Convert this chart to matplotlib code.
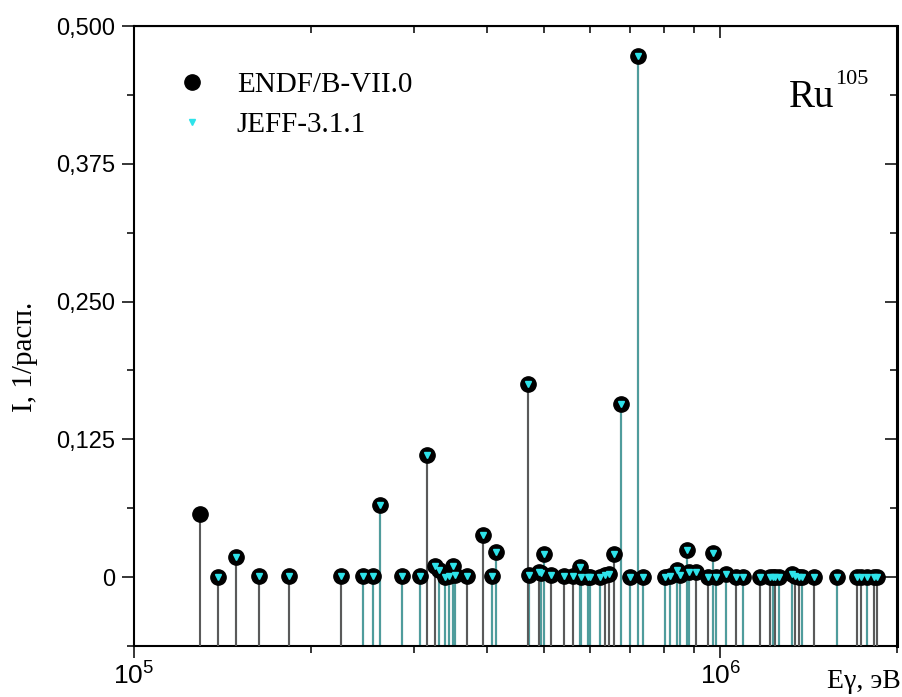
import matplotlib
matplotlib.use("Agg")
import matplotlib.pyplot as plt
from matplotlib.ticker import FixedLocator, FuncFormatter, NullFormatter, MultipleLocator
import numpy as np

# gamma lines of Ru-105, energy in keV, intensity per decay
energy_kev = [129.6, 139.3, 149.3, 163.6, 183.8, 225.3, 245.6, 255.5, 262.8, 286.7,
              306.8, 316.4, 326.4, 330.6, 339.4, 344.1, 350.2, 352.3, 369.7, 393.6,
              407.8, 413.5, 469.4, 471.2, 489.8, 495.0, 499.9, 515.0, 540.0, 560.7,
              575.4, 578.1, 594.7, 600.0, 622.0, 636.0, 644.6, 657.5, 676.4, 702.1,
              724.3, 739.0, 805.6, 821.7, 843.6, 852.0, 875.8, 883.0, 910.0, 951.0,
              969.4, 984.0, 1020.0, 1061.0, 1092.5, 1170.0, 1217.0, 1229.0, 1241.0, 1256.0,
              1326.0, 1338.0, 1359.0, 1379.0, 1443.0, 1580.0, 1712.0, 1734.0, 1775.0, 1824.0,
              1849.0]

endf_int = [0.057, 0.0005, 0.018, 0.001, 0.001, 0.001, 0.001, 0.001, 0.065, 0.001,
            0.001, 0.111, 0.0105, 0.006, 0.0005, 0.001, 0.0105, 0.002, 0.001, 0.038,
            0.001, 0.0225, 0.1755, 0.002, 0.005, 0.004, 0.021, 0.002, 0.001, 0.001,
            0.009, 0.0005, 0.0005, 0.0005, 0.0005, 0.002, 0.003, 0.021, 0.157, 0.0005,
            0.473, 0.0005, 0.0005, 0.001, 0.006, 0.002, 0.0245, 0.005, 0.005, 0.0005,
            0.0215, 0.0005, 0.003, 0.0005, 0.0005, 0.0005, 0.0005, 0.0005, 0.0005, 0.0005,
            0.003, 0.001, 0.0005, 0.0005, 0.0005, 0.0005, 0.0005, 0.0005, 0.0005, 0.0005,
            0.0005]

# JEFF has no 129.6 keV line
jeff_int = [np.nan] + endf_int[1:]

# lines where the grey ENDF drop line shows over the JEFF one
endf_stem_top = {129.6, 139.3, 149.3, 163.6, 183.8, 225.3, 316.4, 326.4, 369.7, 393.6,
                 469.4, 489.8, 515.0, 540.0, 560.7, 636.0, 644.6, 657.5, 910.0, 951.0,
                 1061.0, 1170.0, 1217.0, 1241.0, 1338.0, 1359.0, 1443.0, 1712.0, 1734.0,
                 1824.0, 1849.0}

serif = "Liberation Serif"
sans = "Liberation Sans"
plt.rcParams["font.family"] = sans
plt.rcParams["mathtext.default"] = "regular"

energy = np.array(energy_kev) * 1e3
endf = np.array(endf_int)
jeff = np.array(jeff_int)
ybot = -0.0625

fig = plt.figure(figsize=(9.03, 6.97), dpi=100)
ax = fig.add_axes([134 / 903, 1 - 646 / 697, (897 - 134) / 903, (646 - 26) / 697])
ax.set_xscale("log")
ax.set_xlim(1e5, 2.0e6)
ax.set_ylim(ybot, 0.5)

grey = "#5a5a5a"
teal = "#4f9c9c"
top = np.array([e in endf_stem_top for e in energy_kev])

ax.vlines(energy[~top], ybot, endf[~top], color=grey, lw=1.5, zorder=1)
ok = ~np.isnan(jeff)
ax.vlines(energy[ok], ybot, jeff[ok], color=teal, lw=1.5, zorder=2)
ax.vlines(energy[top], ybot, endf[top], color=grey, lw=1.5, zorder=3)

h1, = ax.plot(energy, endf, "o", color="black", ms=11, zorder=4, label="ENDF/B-VII.0")
h2, = ax.plot(energy[ok], jeff[ok], "v", color="#2ee3ea", ms=5, mec="#2ee3ea", zorder=5,
              label="JEFF-3.1.1")

leg = ax.legend(handles=[h1, h2], loc="upper left", bbox_to_anchor=(177 / 903, 1 - 72 / 697),
                bbox_transform=fig.transFigure, frameon=False, borderpad=0, borderaxespad=0,
                handlelength=1.0, handletextpad=1.05, labelspacing=0.45,
                prop={"family": serif, "size": 21})

# axes and ticks
for sp in ax.spines.values():
    sp.set_linewidth(1.5)
ax.spines["right"].set_linewidth(2.2)

ax.yaxis.set_major_locator(MultipleLocator(0.125))
ax.yaxis.set_minor_locator(MultipleLocator(0.0625))
ax.yaxis.set_major_formatter(FuncFormatter(lambda v, p: "0" if abs(v) < 1e-9 else f"{v:.3f}".replace(".", ",")))
ax.xaxis.set_major_locator(FixedLocator([1e5, 1e6]))
ax.xaxis.set_major_formatter(FuncFormatter(lambda v, p: f"$10^{{{int(round(np.log10(v)))}}}$"))
ax.xaxis.set_minor_locator(FixedLocator([k * 10 ** d for d in (5, 6) for k in range(2, 10)]))
ax.xaxis.set_minor_formatter(NullFormatter())
ax.tick_params(which="major", direction="out", length=8.5, width=1.1, labelsize=17)
ax.tick_params(which="minor", direction="out", length=5, width=1.1)
ax.tick_params(axis="x", labelsize=19, pad=3)
ax.tick_params(axis="y", pad=5)

secx = ax.secondary_xaxis("top")
secx.xaxis.set_major_locator(FixedLocator([1e5, 1e6]))
secx.xaxis.set_minor_locator(FixedLocator([k * 10 ** d for d in (5, 6) for k in range(2, 10)]))
secx.xaxis.set_major_formatter(NullFormatter())
secx.xaxis.set_minor_formatter(NullFormatter())
secx.tick_params(which="major", direction="in", length=8.5, width=1.1)
secx.tick_params(which="minor", direction="in", length=5, width=1.1)

secy = ax.secondary_yaxis("right")
secy.yaxis.set_major_locator(MultipleLocator(0.125))
secy.yaxis.set_minor_locator(MultipleLocator(0.0625))
secy.yaxis.set_major_formatter(NullFormatter())
secy.tick_params(which="major", direction="in", length=8.5, width=1.1)
secy.tick_params(which="minor", direction="in", length=5, width=1.1)

fig.text(25 / 903, 1 - 357 / 697, "I, 1/расп.", rotation=90, ha="center", va="center",
         family=serif, fontsize=21)
fig.text(901 / 903, 1 - 688 / 697, "Eγ, эВ", ha="right", va="baseline",
         family=serif, fontsize=20)

fig.text(789 / 903, 1 - 107 / 697, "Ru", ha="left", va="baseline", family=serif, fontsize=28)
fig.text(835 / 903, 1 - 84 / 697, "105", ha="left", va="baseline", family=serif, fontsize=16)

fig.savefig("out.png", dpi=100)
